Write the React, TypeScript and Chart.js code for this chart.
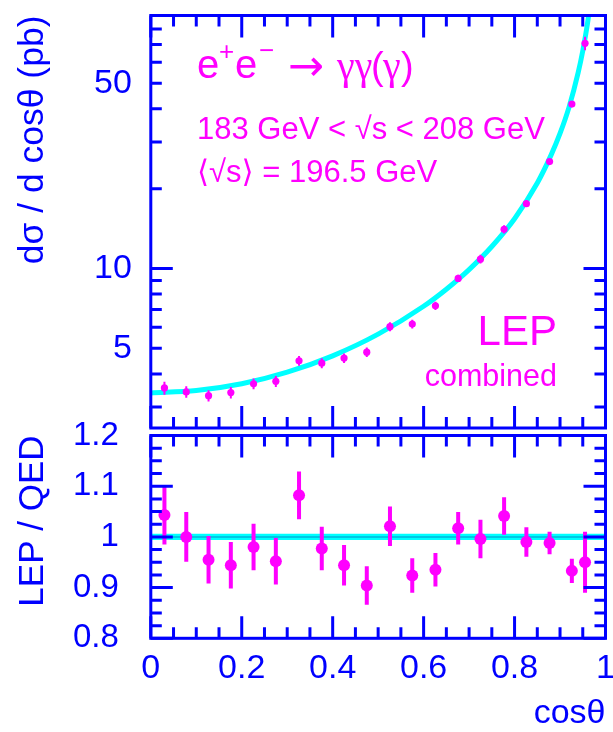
import React, { useEffect, useRef } from 'react';
import { Chart, registerables } from 'chart.js';

Chart.register(...registerables);

// ---------------- data ----------------
const binX = [0.03, 0.078, 0.127, 0.176, 0.226, 0.275, 0.326, 0.376, 0.425, 0.475, 0.526, 0.575, 0.626, 0.676, 0.725, 0.777, 0.826, 0.877, 0.926, 0.955];
const xsec = [3.54, 3.42, 3.31, 3.40, 3.67, 3.75, 4.48, 4.39, 4.59, 4.83, 6.03, 6.17, 7.23, 9.17, 10.84, 14.05, 17.55, 25.3, 41.7, 70.7];
const xsecErr = [0.20, 0.17, 0.16, 0.17, 0.17, 0.18, 0.19, 0.19, 0.19, 0.20, 0.23, 0.23, 0.26, 0.29, 0.41, 0.50, 0.51, 0.56, 1.07, 4.2];
const ratio = [1.043, 1.0, 0.955, 0.944, 0.980, 0.952, 1.082, 0.977, 0.944, 0.904, 1.021, 0.924, 0.935, 1.017, 0.996, 1.041, 0.990, 0.988, 0.933, 0.950];
const ratioErr = [0.058, 0.049, 0.047, 0.046, 0.046, 0.046, 0.047, 0.043, 0.040, 0.038, 0.039, 0.034, 0.033, 0.032, 0.038, 0.037, 0.029, 0.022, 0.024, 0.060];

const qedX = [0, 0.1, 0.2, 0.3, 0.4, 0.5, 0.6, 0.65, 0.7, 0.75, 0.8, 0.85, 0.88, 0.9, 0.92, 0.94, 0.95, 0.96, 0.97];
const qedY = [3.39, 3.46, 3.67, 4.06, 4.68, 5.65, 7.2, 8.35, 9.9, 12.1, 15.4, 21.0, 26.7, 32.3, 40.7, 54.9, 66.2, 83.1, 111];

const bandX = [0, 1];
const bandMid = [1, 1];
const bandHigh = [1.006, 1.006];
const bandLow = [0.994, 0.994];

const xLabels = [0, 0.2, 0.4, 0.6, 0.8, 1];
const xMinor = [0.05, 0.1, 0.15, 0.25, 0.3, 0.35, 0.45, 0.5, 0.55, 0.65, 0.7, 0.75, 0.85, 0.9, 0.95];
const yTopLabels = [5, 10, 50];
const yTopMajor = [10];
const yTopMinor = [3, 4, 5, 6, 7, 8, 9, 20, 30, 40, 50, 60, 70, 80];
const yBotLabels = [0.8, 0.9, 1, 1.1, 1.2];
const yBotMinor = [0.825, 0.85, 0.875, 0.925, 0.95, 0.975, 1.025, 1.05, 1.075, 1.125, 1.15, 1.175];

// ---------------- styles ----------------
const BLUE = '#0000ff';
const MAGENTA = '#ff00ff';
const CYAN = '#00ffff';
const FONT = '"Liberation Sans", Arial, Helvetica, "DejaVu Sans", sans-serif';
const SERIF = '"Liberation Serif", "DejaVu Serif", serif';
const DEJAVU = '"DejaVu Sans", sans-serif';

const framePlugin = {
  id: 'frameTicks',
  afterDraw(chart: any, _args: any, opts: any) {
    const { ctx, chartArea: a, scales } = chart;
    const xs = scales.x;
    const ys = scales.y;
    const MAJ = 22;
    const MIN = 11;
    ctx.save();
    ctx.strokeStyle = BLUE;
    ctx.lineWidth = 3;
    ctx.beginPath();
    const xt = (vals: number[], len: number) => {
      for (const v of vals) {
        const p = xs.getPixelForValue(v);
        ctx.moveTo(p, a.top);
        ctx.lineTo(p, a.top + len);
        ctx.moveTo(p, a.bottom);
        ctx.lineTo(p, a.bottom - len);
      }
    };
    const yt = (vals: number[], len: number) => {
      for (const v of vals) {
        const p = ys.getPixelForValue(v);
        ctx.moveTo(a.left, p);
        ctx.lineTo(a.left + len, p);
        ctx.moveTo(a.right, p);
        ctx.lineTo(a.right - len, p);
      }
    };
    xt(opts.xMajor, MAJ);
    xt(opts.xMinor, MIN);
    yt(opts.yMajor, MAJ);
    yt(opts.yMinor, MIN);
    ctx.stroke();
    ctx.strokeRect(a.left, a.top, a.right - a.left, a.bottom - a.top);
    ctx.restore();
  },
};

const errorBarPlugin = {
  id: 'errorBars',
  afterDatasetsDraw(chart: any) {
    const { ctx, scales } = chart;
    chart.data.datasets.forEach((ds: any) => {
      if (!ds.errors) return;
      ctx.save();
      ctx.strokeStyle = ds.backgroundColor;
      ctx.lineWidth = ds.errorWidth;
      ctx.beginPath();
      ds.data.forEach((pt: any, i: number) => {
        const e = ds.errors[i];
        const px = scales.x.getPixelForValue(pt.x);
        ctx.moveTo(px, scales.y.getPixelForValue(pt.y + e));
        ctx.lineTo(px, scales.y.getPixelForValue(pt.y - e));
      });
      ctx.stroke();
      ctx.restore();
    });
  },
};

const textPlugin = {
  id: 'labelsText',
  afterDraw(chart: any, _args: any, opts: any) {
    const { ctx } = chart;
    ctx.save();
    ctx.fillStyle = MAGENTA;
    ctx.textBaseline = 'alphabetic';
    for (const it of opts.items || []) {
      ctx.font = `${it.size}px ${it.family || FONT}`;
      ctx.textAlign = it.align || 'left';
      ctx.fillText(it.text, it.x, it.y);
    }
    ctx.restore();
  },
};

const textItems = [
  { text: 'e', x: 197, y: 78, size: 40 },
  { text: '+', x: 219, y: 60, size: 26 },
  { text: 'e', x: 235, y: 78, size: 40 },
  { text: '\u2212', x: 259, y: 59, size: 26 },
  { text: '\u2192', x: 288, y: 80, size: 43, family: DEJAVU },
  { text: '\u03b3\u03b3', x: 337, y: 79, size: 40, family: SERIF },
  { text: '(', x: 371, y: 79, size: 38 },
  { text: '\u03b3', x: 383, y: 79, size: 40, family: SERIF },
  { text: ')', x: 401, y: 79, size: 38 },
  { text: '183 GeV < \u221as < 208 GeV', x: 197, y: 139, size: 31 },
  { text: '\u27e8\u221as\u27e9 = 196.5 GeV', x: 197, y: 182, size: 31 },
  { text: 'LEP', x: 557, y: 345, size: 42, align: 'right' },
  { text: 'combined', x: 557, y: 386, size: 30.5, align: 'right' },
];

const LEFT = 150.8;
const BOT_TOP = 398;
const zeroPad = (s: any) => {
  s.paddingTop = 0;
  s.paddingBottom = 0;
  s.paddingLeft = 0;
  s.paddingRight = 0;
};

export default function App() {
  const topRef = useRef<HTMLCanvasElement>(null);
  const botRef = useRef<HTMLCanvasElement>(null);

  useEffect(() => {
    Chart.defaults.font.family = FONT;
    const top = new Chart(topRef.current as HTMLCanvasElement, {
      type: 'scatter',
      data: {
        datasets: [
          {
            data: binX.map((x, i) => ({ x, y: xsec[i] })),
            backgroundColor: MAGENTA,
            borderWidth: 0,
            pointRadius: 3.6,
            showLine: false,
            errors: xsecErr,
            errorWidth: 2,
          } as any,
          {
            data: qedX.map((x, i) => ({ x, y: qedY[i] })),
            borderColor: CYAN,
            borderWidth: 5,
            pointRadius: 0,
            showLine: true,
            cubicInterpolationMode: 'monotone',
          } as any,
        ],
      },
      options: {
        animation: false,
        responsive: false,
        events: [],
        layout: { padding: { left: 0, right: 613 - 605.5, top: 15.5, bottom: 4 } },
        scales: {
          x: { type: 'linear', min: 0, max: 1, display: false, afterFit: zeroPad },
          y: {
            type: 'logarithmic',
            min: 2.5,
            max: 90,
            afterBuildTicks: (s: any) => { s.ticks = yTopLabels.map((v) => ({ value: v })); },
            afterFit: (s: any) => { s.width = LEFT; zeroPad(s); },
            grid: { display: false, drawTicks: false },
            border: { display: false },
            ticks: {
              color: BLUE,
              font: { size: 34, lineHeight: 1.2 },
              padding: 19,
              autoSkip: false,
              callback: (v: any) => String(v),
            },
            title: {
              display: true,
              text: 'd\u03c3 / d cos\u03b8 (pb)',
              align: 'end',
              color: BLUE,
              font: { size: 35.5, lineHeight: 1.2 },
              padding: { top: 12, bottom: 0 },
            },
          },
        },
        plugins: {
          legend: { display: false },
          tooltip: { enabled: false },
          frameTicks: { xMajor: xLabels, xMinor, yMajor: yTopMajor, yMinor: yTopMinor },
          labelsText: { items: textItems },
        } as any,
      },
      plugins: [framePlugin, errorBarPlugin, textPlugin],
    });

    const bot = new Chart(botRef.current as HTMLCanvasElement, {
      type: 'scatter',
      data: {
        datasets: [
          {
            data: binX.map((x, i) => ({ x, y: ratio[i] })),
            backgroundColor: MAGENTA,
            borderWidth: 0,
            pointRadius: 6,
            showLine: false,
            errors: ratioErr,
            errorWidth: 4,
          } as any,
          {
            data: bandX.map((x, i) => ({ x, y: bandMid[i] })),
            borderColor: '#00b4dc',
            borderWidth: 1.5,
            pointRadius: 0,
            showLine: true,
          } as any,
          {
            data: bandX.map((x, i) => ({ x, y: bandHigh[i] })),
            borderWidth: 0,
            borderColor: CYAN,
            backgroundColor: CYAN,
            pointRadius: 0,
            showLine: true,
            fill: '+1',
          } as any,
          {
            data: bandX.map((x, i) => ({ x, y: bandLow[i] })),
            borderWidth: 0,
            borderColor: CYAN,
            pointRadius: 0,
            showLine: true,
          } as any,
        ],
      },
      options: {
        animation: false,
        responsive: false,
        events: [],
        layout: { padding: { left: 0, right: 613 - 605.5, top: 435.5 - BOT_TOP, bottom: 0 } },
        scales: {
          x: {
            type: 'linear',
            min: 0,
            max: 1,
            afterBuildTicks: (s: any) => { s.ticks = xLabels.map((v) => ({ value: v })); },
            afterFit: (s: any) => { s.height = 732 - 638.3; zeroPad(s); },
            grid: { display: false, drawTicks: false },
            border: { display: false },
            ticks: {
              color: BLUE,
              font: { size: 34, lineHeight: 1.2 },
              padding: 9.5,
              autoSkip: false,
              maxRotation: 0,
              callback: (v: any) => String(v),
            },
            title: {
              display: true,
              text: 'cos\u03b8',
              align: 'end',
              color: BLUE,
              font: { size: 34, lineHeight: 1.1 },
              padding: { top: 0, bottom: 0 },
            },
          },
          y: {
            type: 'linear',
            min: 0.8,
            max: 1.2,
            afterBuildTicks: (s: any) => { s.ticks = yBotLabels.map((v) => ({ value: v })); },
            afterFit: (s: any) => { s.width = LEFT; zeroPad(s); },
            grid: { display: false, drawTicks: false },
            border: { display: false },
            ticks: {
              color: BLUE,
              font: { size: 33, lineHeight: 1.2 },
              padding: 32,
              autoSkip: false,
              callback: (v: any) => String(v),
            },
            title: {
              display: true,
              text: 'LEP / QED',
              align: 'end',
              color: BLUE,
              font: { size: 35, lineHeight: 1.2 },
              padding: { top: 12, bottom: 0 },
            },
          },
        },
        plugins: {
          legend: { display: false },
          tooltip: { enabled: false },
          frameTicks: { xMajor: xLabels, xMinor, yMajor: yBotLabels, yMinor: yBotMinor },
        } as any,
      },
      plugins: [framePlugin, errorBarPlugin],
    });

    return () => {
      top.destroy();
      bot.destroy();
    };
  }, []);

  return (
    <div style={{ position: 'fixed', left: 0, top: 0, width: 613, height: 732, background: '#ffffff' }}>
      <canvas ref={topRef} width={613} height={432} style={{ position: 'absolute', left: 0, top: 0 }} />
      <canvas ref={botRef} width={613} height={732 - BOT_TOP} style={{ position: 'absolute', left: 0, top: BOT_TOP }} />
    </div>
  );
}
